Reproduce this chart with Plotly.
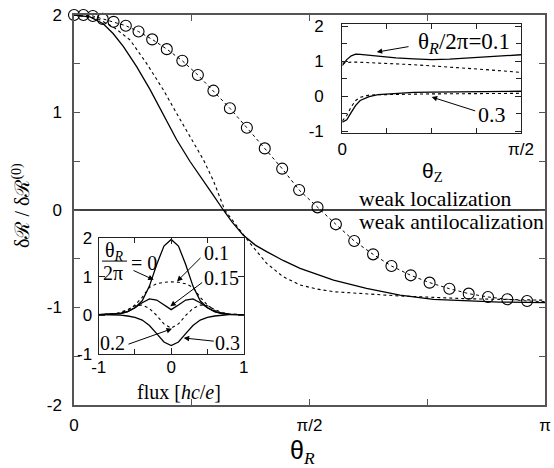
import plotly.graph_objects as go

W, H = 554, 468

# ---------------- main panel data (theta_R in units of pi) ----------------
main_solid_x = [0.0, 0.034, 0.062, 0.083, 0.105, 0.133, 0.161, 0.19, 0.218, 0.246, 0.275, 0.296,
                0.317, 0.335, 0.359, 0.385, 0.409, 0.445, 0.48, 0.515, 0.551, 0.621, 0.692,
                0.763, 0.834, 0.904, 1.0]
main_solid_y = [2.0, 1.98, 1.91, 1.81, 1.675, 1.47, 1.24, 0.97, 0.72, 0.5, 0.29, 0.15,
                0.0, -0.12, -0.256, -0.36, -0.427, -0.52, -0.598, -0.66, -0.718, -0.803, -0.872,
                -0.916, -0.933, -0.944, -0.95]

main_dash_x = [0.0, 0.048, 0.083, 0.119, 0.154, 0.19, 0.218, 0.246, 0.275, 0.296, 0.31, 0.32,
               0.345, 0.374, 0.409, 0.444, 0.48, 0.515, 0.551, 0.621, 0.692, 0.763, 0.834, 1.0]
main_dash_y = [2.0, 1.966, 1.88, 1.744, 1.504, 1.23, 0.99, 0.752, 0.513, 0.3, 0.12, 0.0,
               -0.16, -0.342, -0.547, -0.684, -0.769, -0.81, -0.838, -0.862, -0.882, -0.896, -0.91, -0.925]

circ_x = [0.0, 0.020, 0.040, 0.061, 0.084, 0.110, 0.137, 0.166, 0.197, 0.230, 0.263, 0.296,
          0.331, 0.367, 0.405, 0.442, 0.478, 0.517, 0.556, 0.595, 0.635, 0.674, 0.715, 0.755,
          0.797, 0.838, 0.879, 0.920, 0.962]
circ_y = [2.0, 2.0, 1.99, 1.96, 1.93, 1.89, 1.83, 1.75, 1.65, 1.53, 1.385, 1.224,
          1.043, 0.844, 0.632, 0.424, 0.205, 0.027, -0.147, -0.318, -0.455, -0.574, -0.67, -0.745,
          -0.807, -0.858, -0.892, -0.916, -0.933]
circ_line_end_x = [1.0]
circ_line_end_y = [-0.94]

main_xtick_vals = [0, 0.5, 1]
main_xtick_text = ["0", "π/2", "π"]
main_ytick_vals = [-2, -1, 0, 1, 2]
main_ytick_text = ["-2", "-1", "0", "1", "2"]

# ---------------- upper inset data (theta_Z in units of pi/2) ----------------
tz = [0, 0.025, 0.05, 0.075, 0.1, 0.15, 0.2, 0.3, 0.4, 0.5, 0.6, 0.7, 0.8, 0.9, 1.0]
up_solid_01 = [0.88, 1.05, 1.16, 1.21, 1.2, 1.17, 1.14, 1.1, 1.07, 1.05, 1.065, 1.1, 1.13, 1.16, 1.19]
up_dash_01 = [0.95, 0.97, 0.98, 0.98, 0.975, 0.965, 0.955, 0.93, 0.905, 0.87, 0.84, 0.80, 0.765, 0.725, 0.686]
up_solid_03 = [-0.74, -0.67, -0.46, -0.26, -0.12, -0.01, 0.05, 0.09, 0.11, 0.12, 0.125, 0.13, 0.135, 0.14, 0.145]
up_dash_03 = [-0.70, -0.55, -0.30, -0.12, -0.03, 0.035, 0.045, 0.06, 0.066, 0.07, 0.072, 0.075, 0.078, 0.082, 0.086]
inset_ytick_vals = [-1, 0, 1, 2]
inset_ytick_text = ["-1", "0", "1", "2"]

# ---------------- lower inset data (flux in hc/e) ----------------
flux = [-1, -0.8, -0.7, -0.6, -0.5, -0.4, -0.3, -0.2, -0.1, 0,
        0.1, 0.2, 0.3, 0.4, 0.5, 0.6, 0.7, 0.8, 1]
low_00 = [0.02, 0.03, 0.05, 0.1, 0.2, 0.38, 0.76, 1.32, 1.8, 1.97,
          1.8, 1.32, 0.76, 0.38, 0.2, 0.1, 0.05, 0.03, 0.02]
low_01 = [0.02, 0.03, 0.06, 0.13, 0.27, 0.47, 0.73, 0.82, 0.86, 0.87,
          0.86, 0.82, 0.73, 0.47, 0.27, 0.13, 0.06, 0.03, 0.02]
low_015 = [0.02, 0.03, 0.05, 0.1, 0.2, 0.33, 0.43, 0.4, 0.27, 0.15,
           0.27, 0.4, 0.43, 0.33, 0.2, 0.1, 0.05, 0.03, 0.02]
low_02 = [0.02, 0.04, 0.08, 0.15, 0.25, 0.27, 0.18, 0.0, -0.22, -0.33,
          -0.22, 0.0, 0.18, 0.27, 0.25, 0.15, 0.08, 0.04, 0.02]
low_03 = [0.02, 0.02, 0.01, -0.015, -0.05, -0.12, -0.26, -0.47, -0.69, -0.78,
          -0.69, -0.47, -0.26, -0.12, -0.05, -0.015, 0.01, 0.02, 0.02]
flux_tick_vals = [-1, 0, 1]
flux_tick_text = ["-1", "0", "1"]

BLACK = "black"
SANS = "Liberation Sans, Arial, sans-serif"
SERIF = "Liberation Serif, Times New Roman, serif"
DASH = "3px,3px"

fig = go.Figure()

def line(x, y, xa, ya, dash=None, width=1.3):
    fig.add_trace(go.Scatter(x=x, y=y, mode="lines", xaxis=xa, yaxis=ya,
                             line=dict(color=BLACK, width=width, dash=dash),
                             showlegend=False, hoverinfo="skip"))

# main
line(main_solid_x, main_solid_y, "x", "y")
line(main_dash_x, main_dash_y, "x", "y", dash=DASH, width=1.1)
line(circ_x + circ_line_end_x, circ_y + circ_line_end_y, "x", "y", dash=DASH, width=1.0)
fig.add_trace(go.Scatter(x=circ_x, y=circ_y, mode="markers", xaxis="x", yaxis="y",
                         marker=dict(symbol="circle-open", size=11, color=BLACK,
                                     line=dict(width=1.1, color=BLACK)),
                         cliponaxis=False, showlegend=False, hoverinfo="skip"))

# upper inset
line(tz, up_solid_01, "x2", "y2")
line(tz, up_dash_01, "x2", "y2", dash=DASH, width=1.1)
line(tz, up_solid_03, "x2", "y2")
line(tz, up_dash_03, "x2", "y2", dash=DASH, width=1.1)

# lower inset
line(flux, low_00, "x3", "y3")
line(flux, low_01, "x3", "y3", dash=DASH, width=1.1)
line(flux, low_015, "x3", "y3")
line(flux, low_02, "x3", "y3", dash=DASH, width=1.1)
line(flux, low_03, "x3", "y3")


def dom_x(a, b):
    return [a / W, b / W]


def dom_y(top, bottom):
    return [1 - bottom / H, 1 - top / H]


def axis_common(color, width, size, standoff):
    return dict(showline=True, linecolor=color, linewidth=width, mirror="ticks",
                ticks="inside", ticklen=6, tickwidth=1, tickcolor=color,
                showgrid=False, zeroline=False, automargin=False,
                tickfont=dict(family=SANS, size=size, color=BLACK),
                ticklabelposition="outside", ticklabelstandoff=standoff)

fig.update_layout(
    width=W, height=H,
    margin=dict(l=0, r=0, t=0, b=0, autoexpand=False),
    paper_bgcolor="white", plot_bgcolor="rgba(0,0,0,0)",
    showlegend=False,
    xaxis=dict(domain=dom_x(74, 545), range=[0, 1], anchor="y",
               tickmode="array", tickvals=main_xtick_vals, ticktext=main_xtick_text,
               minor=dict(tickvals=[0.25, 0.75], ticks="inside", ticklen=6, tickcolor="#555"),
               **axis_common("#555", 1.5, 17, 4)),
    yaxis=dict(domain=dom_y(15, 405), range=[-2, 2], anchor="x",
               tickmode="array", tickvals=main_ytick_vals, ticktext=main_ytick_text,
               minor=dict(tickvals=[-1.5, -0.5, 0.5, 1.5], ticks="inside", ticklen=6, tickcolor="#555"),
               **axis_common("#555", 1.5, 17, 7)),
    xaxis2=dict(domain=dom_x(342.3, 521), range=[0, 1], anchor="y2",
                tickmode="array", tickvals=[0, 1], ticktext=["0", "π/2"],
                minor=dict(tickvals=[0.25, 0.5, 0.75], ticks="inside", ticklen=5, tickcolor="#222"),
                **axis_common("#222", 1.2, 17, 0)),
    yaxis2=dict(domain=dom_y(24, 133), range=[-1.05, 2.07], anchor="x2",
                tickmode="array", tickvals=inset_ytick_vals, ticktext=inset_ytick_text,
                minor=dict(tickvals=[-0.5, 0.5, 1.5], ticks="inside", ticklen=5, tickcolor="#222"),
                **axis_common("#222", 1.2, 17, 14)),
    xaxis3=dict(domain=dom_x(98.7, 243.7), range=[-1, 1], anchor="y3",
                tickmode="array", tickvals=flux_tick_vals, ticktext=flux_tick_text,
                minor=dict(tickvals=[-0.5, 0.5], ticks="inside", ticklen=5, tickcolor="#222"),
                **axis_common("#222", 1.2, 17, -3)),
    yaxis3=dict(domain=dom_y(238.3, 354), range=[-1, 2], anchor="x3",
                tickmode="array", tickvals=inset_ytick_vals, ticktext=inset_ytick_text,
                **axis_common("#222", 1.2, 17, 2)),
)

ann = []

def text(x, y, s, xref, yref, size=20, family=SERIF, xanchor="center", yanchor="middle", **kw):
    ann.append(dict(x=x, y=y, xref=xref, yref=yref, text=s, showarrow=False,
                    xanchor=xanchor, yanchor=yanchor,
                    font=dict(family=family, size=size, color=BLACK), **kw))

def arrow(x0, y0, x1, y1, xr, yr):
    ann.append(dict(x=x1, y=y1, ax=x0, ay=y0, xref=xr, yref=yr, axref=xr, ayref=yr,
                    text="", showarrow=True, arrowhead=2, arrowsize=1.1, arrowwidth=1,
                    arrowcolor=BLACK, standoff=0, startstandoff=0))

# main panel texts
text(0.601, 0.113, "weak localization", "x", "y", size=21.7, xanchor="left")
text(0.601, -0.123, "weak antilocalization", "x", "y", size=21.7, xanchor="left")
text(302 / W, 1 - 452 / H, "θ<sub><span style='font-family:Liberation Serif'><i>R</i></span></sub>",
     "paper", "paper", size=25, family=SANS)
text(21 / W, 1 - 206 / H, "δℛ / δℛ<sup>(0)</sup>", "paper", "paper", size=20, textangle=-90)

# upper inset
text(432 / W, 1 - 172 / H, "θ<sub><span style='font-family:Liberation Serif'>Z</span></sub>",
     "paper", "paper", size=21, family=SANS)
text(0.681, 1.52, "θ<sub><i>R</i></sub>/2π=0.1", "x2", "y2", size=23)
arrow(0.379, 1.43, 0.1925, 1.266, "x2", "y2")
text(0.838, -0.526, "0.3", "x2", "y2", size=22)
arrow(0.752, -0.43, 0.5, -0.02, "x2", "y2")

# lower inset
text(-0.782, 1.668, "θ<sub><i>R</i></sub>", "x3", "y3", size=20)
text(-0.803, 1.098, "2π", "x3", "y3", size=20)
text(-0.37, 1.357, "= 0", "x3", "y3", size=20)
arrow(-0.541, 1.184, -0.241, 0.925, "x3", "y3")
text(0.625, 1.617, "0.1", "x3", "y3", size=20)
arrow(0.425, 1.531, 0.08, 0.883, "x3", "y3")
text(0.70, 0.969, "0.15", "x3", "y3", size=20)
arrow(0.448, 0.883, -0.012, 0.236, "x3", "y3")
text(-0.81, -0.715, "0.2", "x3", "y3", size=20)
arrow(-0.61, -0.759, 0.011, -0.345, "x3", "y3")
text(0.783, -0.715, "0.3", "x3", "y3", size=20)
arrow(0.608, -0.671, 0.172, -0.585, "x3", "y3")
text(179 / W, 1 - 392 / H, "flux [<i>hc</i>/<i>e</i>]", "paper", "paper", size=20)

fig.update_layout(annotations=ann,
                  shapes=[dict(type="line", xref="x3", yref="y3", x0=-0.954, x1=-0.609,
                               y0=1.409, y1=1.409, line=dict(color=BLACK, width=1)),
                          dict(type="line", xref="x", yref="y", x0=0, x1=1, y0=0, y1=0,
                               line=dict(color=BLACK, width=1.3), layer="below")])

fig.write_html("out.html",
               config={"displayModeBar": False},
               post_script="document.body.style.margin='0';document.body.style.overflow='hidden';")
